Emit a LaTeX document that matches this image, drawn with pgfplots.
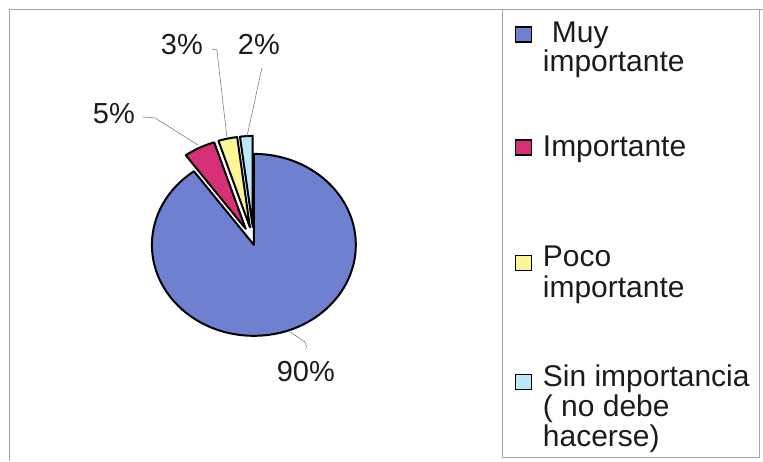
\documentclass[border=0pt]{standalone}
\usepackage{fontspec}
\setmainfont{Liberation Sans}
\usepackage{pgfplots}
\usepackage{pgfplotstable}
\pgfplotsset{compat=1.18}

\definecolor{muy}{RGB}{112,128,208}
\definecolor{imp}{RGB}{214,48,118}
\definecolor{poco}{RGB}{252,246,150}
\definecolor{sinimp}{RGB}{186,232,246}
\definecolor{framegray}{RGB}{165,165,165}
\definecolor{txt}{RGB}{28,28,28}

% share in percent, fill colour, explode distance (px)
\pgfplotstableread{
value col explode
90 muy 0
5 imp 18
3 poco 18
2 sinimp 18
}\piedata

% pie centre and radii, picture units (1 unit = 1 px)
\def\cx{254}\def\cy{216}
\def\rx{102}\def\ry{91}
\def\startangle{90}

\newcommand\pieslice[1]{%
  \pgfplotstablegetelem{#1}{value}\of\piedata \let\val\pgfplotsretval
  \pgfplotstablegetelem{#1}{col}\of\piedata \let\col\pgfplotsretval
  \pgfplotstablegetelem{#1}{explode}\of\piedata \let\ex\pgfplotsretval
  \pgfmathsetmacro\sa{\startangle}%
  \pgfmathsetmacro\ea{\startangle-3.6*\val}%
  \pgfmathsetmacro\md{(\sa+\ea)/2}%
  \pgfmathsetmacro\ax{\cx+\ex*cos(\md)}%
  \pgfmathsetmacro\ay{\cy+\ex*sin(\md)}%
  \pgfmathsetmacro\bx{\ax+\rx*cos(\sa)}%
  \pgfmathsetmacro\by{\ay+\ry*sin(\sa)}%
  \edef\doslice{\noexpand\filldraw[fill=\col, draw=black, line width=2pt, line join=round]
    (axis cs:\ax,\ay) -- (axis cs:\bx,\by)
    arc[start angle=\sa, end angle=\ea, x radius=\rx bp, y radius=\ry bp] -- cycle;}%
  \doslice
  \global\let\startangle\ea
}

\begin{document}
\begin{tikzpicture}
\begin{axis}[
  x=1bp, y=1bp,
  xmin=0, xmax=763, ymin=0, ymax=461,
  hide axis, clip=false,
  ]
\path (axis cs:0,0) rectangle (axis cs:763,461);

% frame
\draw[framegray, line width=0.8pt] (axis cs:9,0) -- (axis cs:9,452) -- (axis cs:763,452);
\draw[framegray, line width=0.8pt] (axis cs:503,452) -- (axis cs:503,3) -- (axis cs:760,3) -- (axis cs:760,452);

% pie
\pieslice{0}
\pieslice{1}
\pieslice{2}
\pieslice{3}

% leader lines
\draw[gray, line width=0.6pt] (axis cs:143,344) -- (axis cs:155,343) -- (axis cs:198,316);
\draw[gray, line width=0.6pt] (axis cs:212,412) -- (axis cs:217,411) -- (axis cs:227,324);
\draw[gray, line width=0.6pt] (axis cs:262,393) -- (axis cs:247,324);
\draw[gray, line width=0.6pt] (axis cs:290,129) -- (axis cs:305,119) -- (axis cs:307,113);

% percentage labels
\begin{scope}[every node/.style={font=\fontsize{29bp}{34bp}\selectfont, text=txt, anchor=base, inner sep=0pt}]
\node at (axis cs:114,337) {5\%};
\node at (axis cs:182,406) {3\%};
\node at (axis cs:259,406) {2\%};
\node at (axis cs:306,79) {90\%};
\end{scope}

% legend
\begin{scope}[every node/.style={font=\fontsize{30bp}{32bp}\selectfont, text=txt, anchor=base west, inner sep=0pt}]
\filldraw[fill=muy, draw=black, line width=1.2pt] (axis cs:516,419) rectangle (axis cs:532,434);
\filldraw[fill=imp, draw=black, line width=1.2pt] (axis cs:516,306) rectangle (axis cs:532,321);
\filldraw[fill=poco, draw=black, line width=1.2pt] (axis cs:516,190) rectangle (axis cs:532,205);
\filldraw[fill=sinimp, draw=black, line width=1.2pt] (axis cs:516,71) rectangle (axis cs:532,86);
\node at (axis cs:552,418) {Muy};
\node at (axis cs:543,389) {importante};
\node at (axis cs:543,304) {Importante};
\node at (axis cs:543,194) {Poco};
\node at (axis cs:543,163) {importante};
\node at (axis cs:543,74) {Sin importancia};
\node at (axis cs:543,44) {( no debe};
\node at (axis cs:543,14) {hacerse)};
\end{scope}
\end{axis}
\end{tikzpicture}
\end{document}
